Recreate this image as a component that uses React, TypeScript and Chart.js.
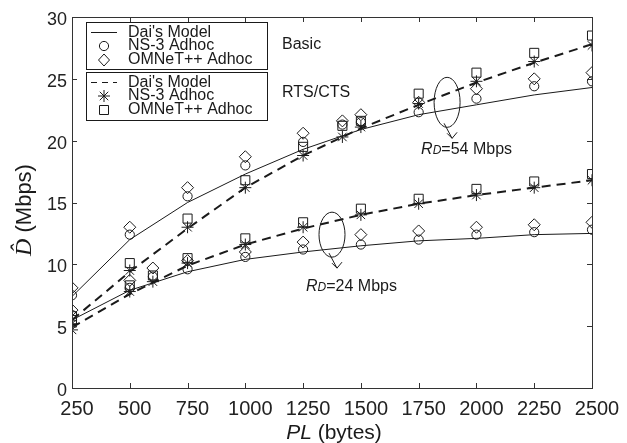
import React, { useEffect, useRef } from "react";
import { Chart, registerables } from "chart.js";

Chart.register(...registerables);

// ---------- data ----------
const modelPL = [250, 500, 750, 1000, 1250, 1500, 1750, 2000, 2250, 2500];
const basicModel54 = [7.4, 12.0, 15.0, 17.3, 19.3, 20.9, 22.1, 22.9, 23.7, 24.3];
const rtsModel54 = [5.5, 9.4, 12.9, 16.2, 18.8, 21.0, 22.9, 24.7, 26.3, 27.8];
const basicModel24 = [5.5, 7.9, 9.4, 10.4, 11.0, 11.5, 11.9, 12.1, 12.4, 12.5];
const rtsModel24 = [4.9, 7.6, 9.9, 11.6, 12.9, 14.0, 14.9, 15.6, 16.2, 16.8];

const simPL54 = [250, 500, 750, 1000, 1250, 1420, 1500, 1750, 2000, 2250, 2500];
const ns3Basic54 = [7.5, 12.4, 15.5, 18.0, 19.9, 21.3, 21.5, 22.3, 23.4, 24.4, 24.8];
const omnetBasic54 = [8.1, 13.0, 16.2, 18.7, 20.6, 21.6, 22.1, 23.1, 24.2, 25.0, 25.5];
const ns3Rts54 = [5.2, 9.5, 13.0, 16.2, 18.8, 20.3, 21.1, 23.0, 24.8, 26.4, 27.7];
const omnetRts54 = [5.8, 10.1, 13.7, 16.8, 19.5, 21.2, 21.6, 23.8, 25.5, 27.1, 28.5];

const simPL24 = [250, 500, 600, 750, 1000, 1250, 1500, 1750, 2000, 2250, 2500];
const ns3Basic24 = [5.9, 8.1, 9.0, 9.6, 10.6, 11.2, 11.6, 12.0, 12.4, 12.6, 12.8];
const omnetBasic24 = [6.3, 8.7, 9.7, 10.3, 11.0, 11.8, 12.4, 12.7, 13.0, 13.2, 13.4];
const ns3Rts24 = [4.7, 7.8, 8.6, 10.1, 11.6, 13.0, 14.0, 14.9, 15.6, 16.2, 16.8];
const omnetRts24 = [5.5, 8.3, 9.1, 10.5, 12.1, 13.4, 14.5, 15.3, 16.1, 16.7, 17.3];

const xTicks = [250, 500, 750, 1000, 1250, 1500, 1750, 2000, 2250, 2500];
const yTicks = [0, 5, 10, 15, 20, 25, 30];

const legendBasic = ["Dai's Model", "NS-3 Adhoc", "OMNeT++ Adhoc"];
const legendRts = ["Dai's Model", "NS-3 Adhoc", "OMNeT++ Adhoc"];
const groupLabels = ["Basic", "RTS/CTS"];
const rateLabels = ["54", "24"];
const annotAnchors = [
  { x: 1873, y: 23.1 },
  { x: 1375, y: 12.4 },
];

// ---------- helpers ----------
const SANS = "'Liberation Sans', Arial, sans-serif";
const SERIF = "'Liberation Serif', 'DejaVu Serif', serif";
const INK = "#1a1a1a";

const pts = (xs: number[], ys: number[]) => xs.map((x, i) => ({ x, y: ys[i] }));

function drawMarker(ctx: CanvasRenderingContext2D, kind: string, x: number, y: number) {
  ctx.save();
  ctx.strokeStyle = INK;
  ctx.lineWidth = 1;
  ctx.beginPath();
  if (kind === "circle") {
    ctx.arc(x, y, 4.6, 0, Math.PI * 2);
  } else if (kind === "diamond") {
    ctx.moveTo(x - 5.5, y);
    ctx.lineTo(x, y - 6);
    ctx.lineTo(x + 5.5, y);
    ctx.lineTo(x, y + 6);
    ctx.closePath();
  } else if (kind === "square") {
    ctx.rect(x - 4.5, y - 4.5, 9, 9);
  } else if (kind === "star") {
    const r = 6;
    for (let k = 0; k < 4; k++) {
      const a = (k * Math.PI) / 4;
      ctx.moveTo(x - r * Math.cos(a), y - r * Math.sin(a));
      ctx.lineTo(x + r * Math.cos(a), y + r * Math.sin(a));
    }
  }
  ctx.stroke();
  ctx.restore();
}

const lineDs = (label: string, ys: number[], dashed: boolean) => ({
  label,
  data: pts(modelPL, ys),
  borderColor: INK,
  borderWidth: dashed ? 2 : 1,
  borderDash: dashed ? [9, 6] : [],
  pointRadius: 0,
  tension: 0,
  fill: false,
});

const markerDs = (label: string, xs: number[], ys: number[], style: string, radius: number) => ({
  label,
  data: pts(xs, ys),
  showLine: false,
  borderColor: INK,
  backgroundColor: "rgba(0,0,0,0)",
  pointBackgroundColor: "rgba(0,0,0,0)",
  pointBorderColor: INK,
  pointBorderWidth: 1,
  pointStyle: style,
  pointRadius: radius,
});

// ---------- plugins ----------
const framePlugin = {
  id: "frame",
  afterDraw(chart: any) {
    const { ctx, chartArea: a, scales } = chart;
    ctx.save();
    ctx.strokeStyle = "#333";
    ctx.lineWidth = 1;
    ctx.strokeRect(Math.round(a.left) + 0.5, Math.round(a.top) + 0.5, Math.round(a.right - a.left), Math.round(a.bottom - a.top));
    const tl = 5;
    ctx.beginPath();
    xTicks.forEach((v) => {
      const px = Math.round(scales.x.getPixelForValue(v)) + 0.5;
      ctx.moveTo(px, a.bottom);
      ctx.lineTo(px, a.bottom - tl);
      ctx.moveTo(px, a.top);
      ctx.lineTo(px, a.top + tl);
    });
    yTicks.forEach((v) => {
      const py = Math.round(scales.y.getPixelForValue(v)) + 0.5;
      ctx.moveTo(a.left, py);
      ctx.lineTo(a.left + tl, py);
      ctx.moveTo(a.right, py);
      ctx.lineTo(a.right - tl, py);
    });
    ctx.stroke();

    // axis titles
    ctx.fillStyle = INK;
    ctx.textBaseline = "alphabetic";
    ctx.textAlign = "left";
    // x title: "PL (bytes)"
    const xt1 = "PL";
    const xt2 = " (bytes)";
    ctx.font = `italic 21px ${SANS}`;
    const w1 = ctx.measureText(xt1).width;
    ctx.font = `21px ${SANS}`;
    const w2 = ctx.measureText(xt2).width;
    const cx = (a.left + a.right) / 2 + 2;
    const sx = cx - (w1 + w2) / 2;
    ctx.font = `italic 21px ${SANS}`;
    ctx.fillText(xt1, sx, 439);
    ctx.font = `21px ${SANS}`;
    ctx.fillText(xt2, sx + w1, 439);

    // y title: "D̂ (Mbps)"
    ctx.save();
    ctx.translate(31, 210);
    ctx.rotate(-Math.PI / 2);
    const yt1 = "D\u0302";
    const yt2 = " (Mbps)";
    ctx.font = `italic 24px ${SERIF}`;
    const v1 = ctx.measureText("D").width;
    ctx.font = `22px ${SANS}`;
    const v2 = ctx.measureText(yt2).width;
    const st = -(v1 + v2) / 2;
    ctx.font = `italic 24px ${SERIF}`;
    ctx.fillText(yt1, st, 0);
    ctx.font = `22px ${SANS}`;
    ctx.fillText(yt2, st + v1, 0);
    ctx.restore();
    ctx.restore();
  },
};

const legendPlugin = {
  id: "customLegend",
  afterDraw(chart: any) {
    const { ctx } = chart;
    ctx.save();
    ctx.strokeStyle = INK;
    ctx.fillStyle = INK;
    ctx.lineWidth = 1;
    const boxes = [
      { top: 22, bottom: 69, labels: legendBasic, dashed: false, marks: ["circle", "diamond"] },
      { top: 72, bottom: 120, labels: legendRts, dashed: true, marks: ["star", "square"] },
    ];
    boxes.forEach((b, bi) => {
      ctx.strokeRect(86.5, b.top + 0.5, 181, b.bottom - b.top);
      const rows = [b.top + 10.5, b.top + 24, b.top + 38];
      ctx.save();
      ctx.beginPath();
      ctx.setLineDash(b.dashed ? [6, 5] : []);
      ctx.moveTo(91, rows[0]);
      ctx.lineTo(117, rows[0]);
      ctx.stroke();
      ctx.restore();
      drawMarker(ctx, b.marks[0], 104, rows[1]);
      drawMarker(ctx, b.marks[1], 104, rows[2]);
      ctx.font = `16px ${SANS}`;
      ctx.textBaseline = "middle";
      ctx.textAlign = "left";
      b.labels.forEach((t, i) => ctx.fillText(t, 128, rows[i]));
      ctx.fillText(groupLabels[bi], 282, bi === 0 ? 45 : 93);
    });
    ctx.restore();
  },
};

const annotPlugin = {
  id: "annot",
  afterDraw(chart: any) {
    const { ctx, scales } = chart;
    ctx.save();
    ctx.strokeStyle = INK;
    ctx.fillStyle = INK;
    ctx.lineWidth = 1;
    const shapes = [
      { rx: 13, ry: 25, tx: -26, ty: 46 },
      { rx: 13, ry: 22.5, tx: -26, ty: 50 },
    ];
    annotAnchors.forEach((p, i) => {
      const s = shapes[i];
      const cx = scales.x.getPixelForValue(p.x);
      const cy = scales.y.getPixelForValue(p.y);
      ctx.beginPath();
      ctx.ellipse(cx, cy, s.rx, s.ry, 0, 0, Math.PI * 2);
      ctx.stroke();
      const x0 = cx - 3, y0 = cy + s.ry - 4;
      const x1 = cx + 5, y1 = cy + s.ry + 11;
      ctx.beginPath();
      ctx.moveTo(x0, y0);
      ctx.lineTo(x1, y1);
      ctx.moveTo(x1 - 5, y1 - 5);
      ctx.lineTo(x1, y1);
      ctx.lineTo(x1 + 5, y1 - 6);
      ctx.stroke();
      const tx = cx + s.tx, ty = cy + s.ty;
      ctx.textBaseline = "alphabetic";
      ctx.textAlign = "left";
      ctx.font = `italic 16px ${SANS}`;
      ctx.fillText("R", tx, ty + 6);
      const wr = ctx.measureText("R").width;
      ctx.font = `italic 12px ${SANS}`;
      ctx.fillText("D", tx + wr, ty + 6);
      const wd = ctx.measureText("D").width;
      ctx.font = `16px ${SANS}`;
      ctx.fillText(`=${rateLabels[i]} Mbps`, tx + wr + wd, ty + 6);
    });
    ctx.restore();
  },
};

export default function App() {
  const canvasRef = useRef<HTMLCanvasElement | null>(null);

  useEffect(() => {
    if (!canvasRef.current) return;
    const chart = new Chart(canvasRef.current, {
      type: "line",
      data: {
        datasets: [
          lineDs("Basic model 54", basicModel54, false),
          lineDs("Basic model 24", basicModel24, false),
          lineDs("RTS model 54", rtsModel54, true),
          lineDs("RTS model 24", rtsModel24, true),
          markerDs("NS-3 Basic 54", simPL54, ns3Basic54, "circle", 4.6),
          markerDs("OMNeT++ Basic 54", simPL54, omnetBasic54, "rectRot", 6),
          markerDs("NS-3 RTS 54", simPL54, ns3Rts54, "star", 6),
          markerDs("OMNeT++ RTS 54", simPL54, omnetRts54, "rect", 6.4),
          markerDs("NS-3 Basic 24", simPL24, ns3Basic24, "circle", 4.6),
          markerDs("OMNeT++ Basic 24", simPL24, omnetBasic24, "rectRot", 6),
          markerDs("NS-3 RTS 24", simPL24, ns3Rts24, "star", 6),
          markerDs("OMNeT++ RTS 24", simPL24, omnetRts24, "rect", 6.4),
        ] as any,
      },
      options: {
        animation: false,
        responsive: true,
        maintainAspectRatio: false,
        layout: { padding: { top: 17, right: 35, left: 0, bottom: 0 } },
        plugins: { legend: { display: false }, tooltip: { enabled: false }, title: { display: false } },
        scales: {
          x: {
            type: "linear",
            min: 250,
            max: 2500,
            grid: { display: false, drawTicks: false },
            border: { display: false },
            afterBuildTicks: (s: any) => {
              s.ticks = xTicks.map((v) => ({ value: v }));
            },
            afterFit: (s: any) => {
              s.height = 55;
            },
            ticks: {
              autoSkip: false,
              maxRotation: 0,
              color: "#222",
              padding: 9,
              labelOffset: 5,
              font: { family: SANS, size: 20 },
              callback: (v: any) => String(v),
            },
          },
          y: {
            min: 0,
            max: 30,
            grid: { display: false, drawTicks: false },
            border: { display: false },
            afterBuildTicks: (s: any) => {
              s.ticks = yTicks.map((v) => ({ value: v }));
            },
            afterFit: (s: any) => {
              s.width = 72;
            },
            ticks: {
              color: "#222",
              padding: 5,
              labelOffset: 3,
              font: { family: SANS, size: 18 },
            },
          },
        },
      } as any,
      plugins: [framePlugin, legendPlugin, annotPlugin],
    });
    return () => chart.destroy();
  }, []);

  return (
    <div style={{ position: "absolute", left: 0, top: 0, width: 627, height: 443, background: "#fff" }}>
      <canvas ref={canvasRef} />
    </div>
  );
}
